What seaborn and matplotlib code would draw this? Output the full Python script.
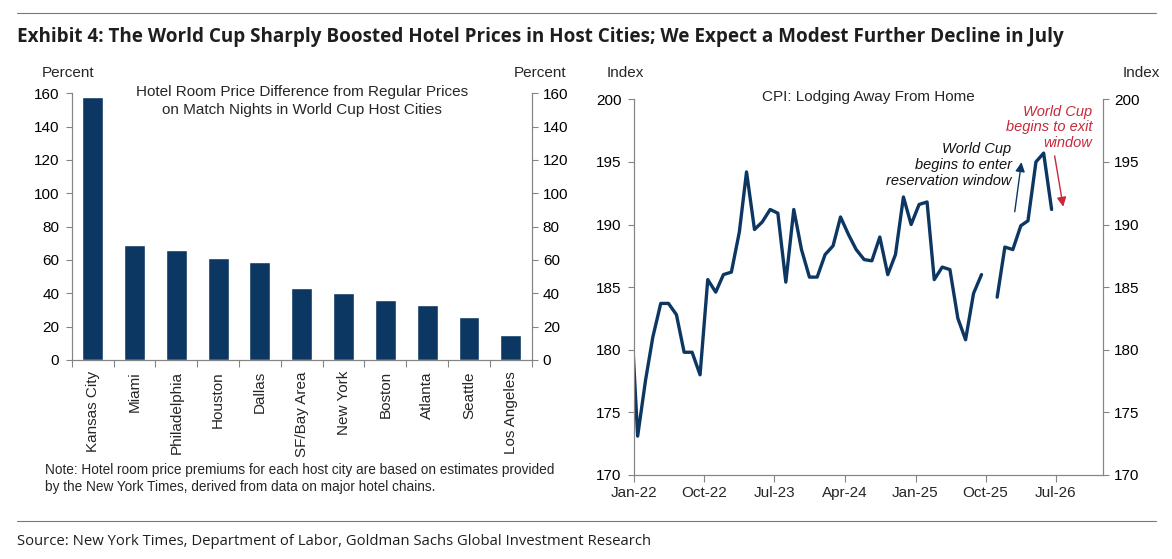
import numpy as np
import pandas as pd
import matplotlib
matplotlib.use('Agg')
import matplotlib.pyplot as plt
import matplotlib.dates as mdates
from matplotlib.lines import Line2D
import seaborn as sns

# left panel: hotel price premium on match nights, percent
cities = ['Kansas City', 'Miami', 'Philadelphia', 'Houston', 'Dallas', 'SF/Bay Area',
          'New York', 'Boston', 'Atlanta', 'Seattle', 'Los Angeles']
premium = [158, 69, 66, 61, 59, 43, 40, 36, 33, 26, 15]

# right panel: CPI lodging away from home, monthly (Oct-25 not published)
months = pd.date_range('2021-12-01', '2026-06-01', freq='MS')
cpi_lodging = [185.0,
               173.1, 177.6, 181.0, 183.7, 183.7, 182.8, 179.8, 179.8, 178.0, 185.6, 184.6, 186.0,
               186.2, 189.4, 194.2, 189.6, 190.2, 191.2, 190.9, 185.4, 191.2, 188.0, 185.8, 185.8,
               187.6, 188.3, 190.6, 189.2, 188.0, 187.2, 187.1, 189.0, 186.0, 187.6, 192.2, 190.0,
               191.6, 191.8, 185.6, 186.6, 186.4, 182.5, 180.8, 184.5, 186.0, np.nan, 184.2, 188.2,
               188.0, 189.9, 190.3, 195.0, 195.7, 191.2]
date_ticks = ['2022-01-01', '2022-10-01', '2023-07-01', '2024-04-01',
              '2025-01-01', '2025-10-01', '2026-07-01']

navy = '#0c3763'
red = '#c8283c'
grey = '#858585'

sns.set_theme(style='white')
plt.rcParams['font.family'] = ['Liberation Sans', 'DejaVu Sans']
plt.rcParams['font.size'] = 10

fig = plt.figure(figsize=(11.72, 5.59), dpi=100)


def style_axes(ax, twin):
    for a in (ax, twin):
        a.spines['top'].set_visible(False)
        for s in ('left', 'right', 'bottom'):
            a.spines[s].set_color(grey)
            a.spines[s].set_linewidth(0.8)
        a.tick_params(axis='y', length=4, width=0.8, color=grey, labelsize=11, labelcolor='black')
    ax.tick_params(axis='y', left=True, right=False, pad=5)
    twin.tick_params(axis='y', right=True, left=False, pad=4)


# ---------------- left: bars
ax1 = fig.add_axes([0.0612, 0.356, 0.3925, 0.4771])
sns.barplot(x=cities, y=premium, color=navy, width=0.5, saturation=1, ax=ax1)
ax1.set_xlim(-0.5, len(cities) - 0.5)
ax1.set_ylim(0, 160)
ax1.set_yticks(range(0, 161, 20))
ax1.set_xlabel('')
ax1.set_ylabel('')
ax1.set_xticks(range(len(cities)))
ax1.set_xticklabels(cities, rotation=90, fontsize=11)
ax1.set_xticks(np.arange(-0.5, len(cities), 1), minor=True)
ax1.tick_params(axis='x', which='major', length=0, pad=8)
ax1.tick_params(axis='x', which='minor', length=5, width=0.8, color=grey, bottom=True)
tw1 = ax1.twinx()
tw1.set_ylim(0, 160)
tw1.set_yticks(range(0, 161, 20))
style_axes(ax1, tw1)
ax1.text(0.5, 0.971, 'Hotel Room Price Difference from Regular Prices\non Match Nights in World Cup Host Cities',
         transform=ax1.transAxes, ha='center', va='center', fontsize=11, linespacing=1.3)

fig.text(0.058, 0.869, 'Percent', ha='center', va='center', fontsize=11)
fig.text(0.4608, 0.869, 'Percent', ha='center', va='center', fontsize=11)
fig.text(0.038, 0.144, 'Note: Hotel room price premiums for each host city are based on estimates provided\n'
         'by the New York Times, derived from data on major hotel chains.',
         ha='left', va='center', fontsize=9.8, linespacing=1.3)

# ---------------- right: CPI line
cpi = pd.DataFrame({'date': months + pd.Timedelta(days=14), 'value': cpi_lodging})
cpi['segment'] = cpi['value'].isna().cumsum()
cpi = cpi.dropna()

ax2 = fig.add_axes([0.5410, 0.1503, 0.4001, 0.6721])
sns.lineplot(data=cpi, x='date', y='value', units='segment', estimator=None,
             color=navy, linewidth=2.4, ax=ax2)
ax2.set_xlim(pd.Timestamp('2022-01-01'), pd.Timestamp('2027-01-01'))
ax2.set_ylim(170, 200)
ax2.set_yticks(range(170, 201, 5))
ax2.set_xticks(pd.to_datetime(date_ticks))
ax2.xaxis.set_major_formatter(mdates.DateFormatter('%b-%y'))
ax2.tick_params(axis='x', length=5, width=0.8, color=grey, bottom=True, labelsize=11, pad=3)
ax2.set_xlabel('')
ax2.set_ylabel('')
tw2 = ax2.twinx()
tw2.set_ylim(170, 200)
tw2.set_yticks(range(170, 201, 5))
style_axes(ax2, tw2)
ax2.text(0.5, 1.006, 'CPI: Lodging Away From Home', transform=ax2.transAxes,
         ha='center', va='center', fontsize=11)

ax2.annotate('', xy=(pd.Timestamp('2026-02-19'), 195.2), xytext=(pd.Timestamp('2026-01-21'), 190.8),
             arrowprops=dict(arrowstyle='-|>', color=navy, lw=1.0, mutation_scale=14))
ax2.text(pd.Timestamp('2026-01-10'), 194.75, 'World Cup\nbegins to enter\nreservation window',
         ha='right', va='center', fontsize=10.5, style='italic', color='#111111', linespacing=1.15)
ax2.annotate('', xy=(pd.Timestamp('2026-08-01'), 191.2), xytext=(pd.Timestamp('2026-06-25'), 195.7),
             arrowprops=dict(arrowstyle='-|>', color=red, lw=1.0, mutation_scale=14))
ax2.text(pd.Timestamp('2026-11-20'), 197.75, 'World Cup\nbegins to exit\nwindow',
         ha='right', va='center', fontsize=10.5, style='italic', color=red, linespacing=1.15)

fig.text(0.5334, 0.869, 'Index', ha='center', va='center', fontsize=11)
fig.text(0.9735, 0.869, 'Index', ha='center', va='center', fontsize=11)

# ---------------- header / footer
fig.text(0.0145, 0.934, 'Exhibit 4: The World Cup Sharply Boosted Hotel Prices in Host Cities; '
         'We Expect a Modest Further Decline in July',
         ha='left', va='center', fontsize=13.6, fontweight='bold', color='#1e1e1e',
         family=['Open Sans', 'DejaVu Sans'])
fig.text(0.0145, 0.032, 'Source: New York Times, Department of Labor, Goldman Sachs Global Investment Research',
         ha='left', va='center', fontsize=10.7, color='#1e1e1e', family=['Open Sans', 'DejaVu Sans'])
fig.add_artist(Line2D([0.0145, 0.986], [0.977, 0.977], color='#7a7a7a', lw=0.8))
fig.add_artist(Line2D([0.0145, 0.986], [0.068, 0.068], color='#7a7a7a', lw=0.8))

fig.savefig('out.png', dpi=100)
